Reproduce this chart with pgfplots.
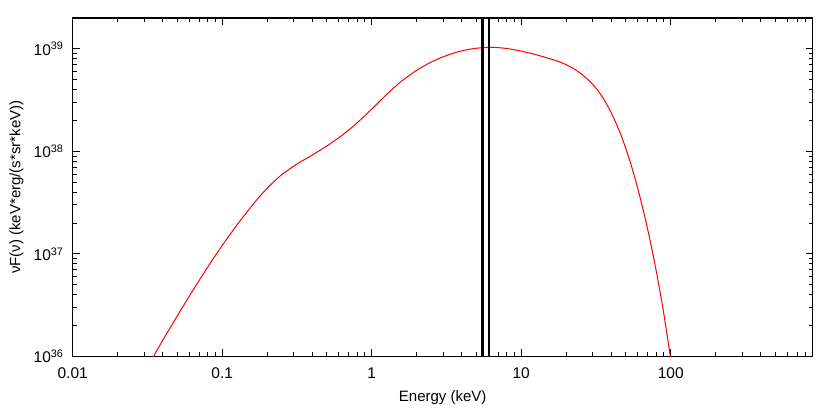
\documentclass[border=0pt]{standalone}
\usepackage{fontspec}
\setmainfont{Liberation Sans}
\usepackage{pgfplots}
\pgfplotsset{compat=1.18}

% spectrum, nuF(nu) against energy
\pgfplotstableread{
E       F
0.03162 7.89e35
0.03981 1.419e36
0.05012 2.495e36
0.06310 4.31e36
0.07943 7.32e36
0.1     1.208e37
0.1259  1.925e37
0.1585  2.965e37
0.1995  4.36e37
0.2512  5.95e37
0.3162  7.52e37
0.3981  9.17e37
0.5012  1.128e38
0.6310  1.429e38
0.7943  1.884e38
1.0     2.585e38
1.259   3.589e38
1.585   4.84e38
1.995   6.16e38
2.512   7.45e38
3.162   8.60e38
3.981   9.54e38
5.012   1.013e39
6.310   1.033e39
7.943   1.009e39
10      9.50e38
12.59   8.75e38
15.85   7.95e38
17.78   7.51e38
19.95   7.01e38
22.39   6.41e38
25.12   5.71e38
28.18   4.95e38
31.62   4.13e38
35.48   3.26e38
39.81   2.41e38
44.67   1.665e38
50.12   1.063e38
56.23   6.21e37
63.10   3.32e37
70.79   1.627e37
79.43   7.18e36
89.13   2.81e36
100     9.40e35
}\spectrum

\begin{document}
\fontsize{15}{18}\selectfont
\begin{tikzpicture}
\begin{axis}[
  at={(0,0)}, anchor=south west,
  scale only axis,
  width=740pt, height=338.5pt,
  xmode=log, ymode=log,
  xmin=0.01, xmax=890,
  ymin=1e36, ymax=2e39,
  xtick={0.01,0.1,1,10,100},
  xticklabels={0.01,0.1,1,10,100},
  ytick={1e36,1e37,1e38,1e39},
  yticklabels={10\textsuperscript{36},10\textsuperscript{37},10\textsuperscript{38},10\textsuperscript{39}},
  minor xtick={0.02,0.03,0.04,0.05,0.06,0.07,0.08,0.09,0.2,0.3,0.4,0.5,0.6,0.7,0.8,0.9,2,3,4,5,6,7,8,9,20,30,40,50,60,70,80,90,200,300,400,500,600,700,800},
  minor ytick={2e36,3e36,4e36,5e36,6e36,7e36,8e36,9e36,2e37,3e37,4e37,5e37,6e37,7e37,8e37,9e37,2e38,3e38,4e38,5e38,6e38,7e38,8e38,9e38},
  tick align=inside,
  major tick length=7pt, minor tick length=4pt,
  every tick/.style={black, line width=1pt},
  axis line style={line width=1.5pt},
  tick label style={font=\fontsize{15.5}{18}\selectfont},
  xticklabel style={yshift=-6pt},
  yticklabel style={xshift=-4pt},
  xlabel={Energy (keV)},
  ylabel={νF(ν) (keV*erg/(s*sr*keV))},
  label style={font=\fontsize{15}{18}\selectfont},
  xlabel style={yshift=-2pt},
]
\addplot[red, line width=1pt, smooth] table[x=E, y=F] {\spectrum};
\addplot[black, line width=2.2pt] coordinates {(5.5,1e35) (5.5,1e40)};
\addplot[black, line width=2.2pt] coordinates {(6.1,1e35) (6.1,1e40)};
\end{axis}
\useasboundingbox (-72.7pt,-49.5pt) rectangle (757.3pt,356.5pt);
\end{tikzpicture}
\end{document}
